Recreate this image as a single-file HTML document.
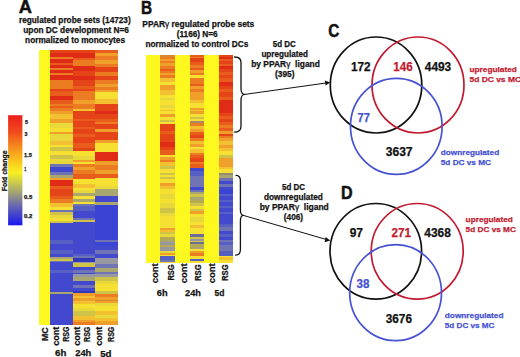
<!DOCTYPE html>
<html><head><meta charset="utf-8">
<style>
html,body{margin:0;padding:0;background:#fff;}
body{width:520px;height:357px;overflow:hidden;position:relative;}
svg{position:absolute;left:0;top:0;}
text{font-family:"Liberation Sans",sans-serif;font-weight:bold;stroke-width:0.25px;}
</style></head><body>
<svg width="520" height="357" viewBox="0 0 520 357">
<defs><linearGradient id="lg" x1="0" y1="0" x2="0" y2="1">
<stop offset="0" stop-color="#ec1e1c"/>
<stop offset="0.15" stop-color="#f04a1c"/>
<stop offset="0.3" stop-color="#f6901c"/>
<stop offset="0.45" stop-color="#fad41e"/>
<stop offset="0.52" stop-color="#f8f020"/>
<stop offset="0.62" stop-color="#c8c850"/>
<stop offset="0.72" stop-color="#9a9a7c"/>
<stop offset="0.82" stop-color="#6868b0"/>
<stop offset="1" stop-color="#1818f0"/>
</linearGradient></defs>
<rect x="8.1" y="115.2" width="14.3" height="110.1" fill="url(#lg)"/>
<g id="hm" shape-rendering="crispEdges">
<rect x="38.6" y="50" width="11.4" height="274.6" fill="#fcf820"/>
<rect x="50" y="50" width="22.6" height="2.5" fill="#e44418"/>
<rect x="50" y="52.5" width="22.6" height="4.0" fill="#e02c16"/>
<rect x="50" y="56.5" width="22.6" height="2.0" fill="#ec7c22"/>
<rect x="50" y="58.5" width="22.6" height="4.5" fill="#e02c16"/>
<rect x="50" y="63" width="22.6" height="2" fill="#e85c1c"/>
<rect x="50" y="65" width="22.6" height="2.6" fill="#e02c16"/>
<rect x="50" y="67.6" width="22.6" height="2.0" fill="#ec7c22"/>
<rect x="50" y="69.6" width="22.6" height="3.4" fill="#e02c16"/>
<rect x="50" y="73" width="22.6" height="2" fill="#ec7c22"/>
<rect x="50" y="75" width="22.6" height="5" fill="#e02c16"/>
<rect x="50" y="80" width="22.6" height="5" fill="#ec7c22"/>
<rect x="50" y="85" width="22.6" height="3.5" fill="#ec7c22"/>
<rect x="50" y="88.5" width="22.6" height="2.5" fill="#e44418"/>
<rect x="50" y="91" width="22.6" height="4.6" fill="#e85c1c"/>
<rect x="50" y="95.6" width="22.6" height="4.4" fill="#e02c16"/>
<rect x="50" y="100" width="22.6" height="3.5" fill="#e85c1c"/>
<rect x="50" y="103.5" width="22.6" height="2.5" fill="#ec7c22"/>
<rect x="50" y="106" width="22.6" height="2" fill="#e85c1c"/>
<rect x="50" y="108" width="22.6" height="3" fill="#ec7c22"/>
<rect x="50" y="111" width="22.6" height="3" fill="#f0a02a"/>
<rect x="50" y="114" width="22.6" height="5" fill="#f2c030"/>
<rect x="50" y="119" width="22.6" height="4" fill="#f0a02a"/>
<rect x="50" y="123" width="22.6" height="4.5" fill="#e8d83a"/>
<rect x="50" y="127.5" width="22.6" height="4.0" fill="#f6e032"/>
<rect x="50" y="131.5" width="22.6" height="2.5" fill="#f0a02a"/>
<rect x="50" y="134" width="22.6" height="3.3" fill="#e8d83a"/>
<rect x="50" y="137.3" width="22.6" height="3.2" fill="#e8d83a"/>
<rect x="50" y="140.5" width="22.6" height="4.0" fill="#f2c030"/>
<rect x="50" y="144.5" width="22.6" height="2.5" fill="#f6e032"/>
<rect x="50" y="147" width="22.6" height="4" fill="#d0c448"/>
<rect x="50" y="151" width="22.6" height="4" fill="#f6e032"/>
<rect x="50" y="155" width="22.6" height="3.8" fill="#d0c448"/>
<rect x="50" y="158.8" width="22.6" height="3.2" fill="#e8d83a"/>
<rect x="50" y="162" width="22.6" height="2" fill="#e8d83a"/>
<rect x="50" y="164" width="22.6" height="3" fill="#7074b4"/>
<rect x="50" y="167" width="22.6" height="5" fill="#4249ce"/>
<rect x="50" y="172" width="22.6" height="3" fill="#7074b4"/>
<rect x="50" y="175" width="22.6" height="3" fill="#aaa670"/>
<rect x="50" y="178" width="22.6" height="2" fill="#f0a02a"/>
<rect x="50" y="180" width="22.6" height="6" fill="#e02c16"/>
<rect x="50" y="186" width="22.6" height="3" fill="#e85c1c"/>
<rect x="50" y="189" width="22.6" height="3" fill="#e44418"/>
<rect x="50" y="192" width="22.6" height="4" fill="#e44418"/>
<rect x="50" y="196" width="22.6" height="3" fill="#e85c1c"/>
<rect x="50" y="199" width="22.6" height="4" fill="#ec7c22"/>
<rect x="50" y="203" width="22.6" height="4" fill="#f2c030"/>
<rect x="50" y="207" width="22.6" height="3" fill="#f6e032"/>
<rect x="50" y="210" width="22.6" height="2" fill="#7074b4"/>
<rect x="50" y="212" width="22.6" height="3" fill="#d0c448"/>
<rect x="50" y="215" width="22.6" height="3" fill="#e8d83a"/>
<rect x="50" y="218" width="22.6" height="3" fill="#f6e032"/>
<rect x="50" y="221" width="22.6" height="2" fill="#d0c448"/>
<rect x="50" y="223" width="22.6" height="17" fill="#4249ce"/>
<rect x="50" y="240" width="22.6" height="4" fill="#5660c2"/>
<rect x="50" y="244" width="22.6" height="6" fill="#4249ce"/>
<rect x="50" y="250" width="22.6" height="4" fill="#5660c2"/>
<rect x="50" y="254" width="22.6" height="3" fill="#4249ce"/>
<rect x="50" y="257" width="22.6" height="2" fill="#aaa670"/>
<rect x="50" y="259" width="22.6" height="1.5" fill="#d0c448"/>
<rect x="50" y="260.5" width="22.6" height="1.5" fill="#7074b4"/>
<rect x="50" y="262" width="22.6" height="8" fill="#4249ce"/>
<rect x="50" y="270" width="22.6" height="3" fill="#5660c2"/>
<rect x="50" y="273" width="22.6" height="18.6" fill="#4249ce"/>
<rect x="50" y="291.6" width="22.6" height="2.2" fill="#aaa670"/>
<rect x="50" y="293.8" width="22.6" height="30.8" fill="#4249ce"/>
<rect x="72.6" y="50" width="22.5" height="3" fill="#e44418"/>
<rect x="72.6" y="53" width="22.5" height="5" fill="#e02c16"/>
<rect x="72.6" y="58" width="22.5" height="2" fill="#e85c1c"/>
<rect x="72.6" y="60" width="22.5" height="6" fill="#ec7c22"/>
<rect x="72.6" y="66" width="22.5" height="5" fill="#e02c16"/>
<rect x="72.6" y="71" width="22.5" height="5" fill="#e44418"/>
<rect x="72.6" y="76" width="22.5" height="4" fill="#e02c16"/>
<rect x="72.6" y="80" width="22.5" height="6" fill="#e44418"/>
<rect x="72.6" y="86" width="22.5" height="2.5" fill="#e85c1c"/>
<rect x="72.6" y="88.5" width="22.5" height="2.5" fill="#e44418"/>
<rect x="72.6" y="91" width="22.5" height="4" fill="#ec7c22"/>
<rect x="72.6" y="95" width="22.5" height="4.5" fill="#ec7c22"/>
<rect x="72.6" y="99.5" width="22.5" height="4.0" fill="#f0a02a"/>
<rect x="72.6" y="103.5" width="22.5" height="2.5" fill="#ec7c22"/>
<rect x="72.6" y="106" width="22.5" height="2.6" fill="#ec7c22"/>
<rect x="72.6" y="108.6" width="22.5" height="2.0" fill="#f2c030"/>
<rect x="72.6" y="110.6" width="22.5" height="8.4" fill="#e44418"/>
<rect x="72.6" y="119" width="22.5" height="2" fill="#e85c1c"/>
<rect x="72.6" y="121" width="22.5" height="6" fill="#e44418"/>
<rect x="72.6" y="127" width="22.5" height="2" fill="#e85c1c"/>
<rect x="72.6" y="129" width="22.5" height="5" fill="#e44418"/>
<rect x="72.6" y="134" width="22.5" height="3" fill="#e85c1c"/>
<rect x="72.6" y="137" width="22.5" height="6" fill="#e44418"/>
<rect x="72.6" y="143" width="22.5" height="5" fill="#e85c1c"/>
<rect x="72.6" y="148" width="22.5" height="3" fill="#e44418"/>
<rect x="72.6" y="151" width="22.5" height="4.6" fill="#f6e032"/>
<rect x="72.6" y="155.6" width="22.5" height="4.4" fill="#e8d83a"/>
<rect x="72.6" y="160" width="22.5" height="2" fill="#f0a02a"/>
<rect x="72.6" y="162" width="22.5" height="2" fill="#f6e032"/>
<rect x="72.6" y="164" width="22.5" height="3" fill="#ec7c22"/>
<rect x="72.6" y="167" width="22.5" height="3" fill="#f0a02a"/>
<rect x="72.6" y="170" width="22.5" height="4" fill="#ec7c22"/>
<rect x="72.6" y="174" width="22.5" height="5" fill="#e85c1c"/>
<rect x="72.6" y="179" width="22.5" height="2" fill="#f6e032"/>
<rect x="72.6" y="181" width="22.5" height="3" fill="#f6e032"/>
<rect x="72.6" y="184" width="22.5" height="4" fill="#f2c030"/>
<rect x="72.6" y="188" width="22.5" height="2" fill="#f6e032"/>
<rect x="72.6" y="190" width="22.5" height="3" fill="#e8d83a"/>
<rect x="72.6" y="193" width="22.5" height="3" fill="#aaa670"/>
<rect x="72.6" y="196" width="22.5" height="3" fill="#f6e032"/>
<rect x="72.6" y="199" width="22.5" height="3" fill="#aaa670"/>
<rect x="72.6" y="202" width="22.5" height="2" fill="#f6e032"/>
<rect x="72.6" y="204" width="22.5" height="2" fill="#7074b4"/>
<rect x="72.6" y="206" width="22.5" height="5" fill="#5660c2"/>
<rect x="72.6" y="211" width="22.5" height="7" fill="#4249ce"/>
<rect x="72.6" y="218" width="22.5" height="2" fill="#7074b4"/>
<rect x="72.6" y="220" width="22.5" height="2" fill="#d0c448"/>
<rect x="72.6" y="222" width="22.5" height="32" fill="#4249ce"/>
<rect x="72.6" y="254" width="22.5" height="2" fill="#5660c2"/>
<rect x="72.6" y="256" width="22.5" height="2" fill="#7074b4"/>
<rect x="72.6" y="258" width="22.5" height="4" fill="#3038bc"/>
<rect x="72.6" y="262" width="22.5" height="1" fill="#9898a0"/>
<rect x="72.6" y="263" width="22.5" height="4" fill="#d0c448"/>
<rect x="72.6" y="267" width="22.5" height="3" fill="#4249ce"/>
<rect x="72.6" y="270" width="22.5" height="3" fill="#7074b4"/>
<rect x="72.6" y="273" width="22.5" height="1" fill="#4249ce"/>
<rect x="72.6" y="274" width="22.5" height="3" fill="#9898a0"/>
<rect x="72.6" y="277" width="22.5" height="4" fill="#aaa670"/>
<rect x="72.6" y="281" width="22.5" height="4" fill="#4249ce"/>
<rect x="72.6" y="285" width="22.5" height="3" fill="#7074b4"/>
<rect x="72.6" y="288" width="22.5" height="3" fill="#4249ce"/>
<rect x="72.6" y="291" width="22.5" height="2" fill="#3038bc"/>
<rect x="72.6" y="293" width="22.5" height="3" fill="#f0a02a"/>
<rect x="72.6" y="296" width="22.5" height="2" fill="#f2c030"/>
<rect x="72.6" y="298" width="22.5" height="2.6" fill="#f0a02a"/>
<rect x="72.6" y="300.6" width="22.5" height="3.3" fill="#f2c030"/>
<rect x="72.6" y="303.9" width="22.5" height="4.1" fill="#f6e032"/>
<rect x="72.6" y="308" width="22.5" height="3" fill="#e8d83a"/>
<rect x="72.6" y="311" width="22.5" height="5.3" fill="#d0c448"/>
<rect x="72.6" y="316.3" width="22.5" height="3.9" fill="#f2c030"/>
<rect x="72.6" y="320.2" width="22.5" height="2.0" fill="#f0a02a"/>
<rect x="72.6" y="322.2" width="22.5" height="2.4" fill="#ec7c22"/>
<rect x="95.1" y="50" width="22.4" height="2.6" fill="#e85c1c"/>
<rect x="95.1" y="52.6" width="22.4" height="3.4" fill="#f0a02a"/>
<rect x="95.1" y="56" width="22.4" height="4" fill="#ec7c22"/>
<rect x="95.1" y="60" width="22.4" height="4.4" fill="#f0a02a"/>
<rect x="95.1" y="64.4" width="22.4" height="2.6" fill="#ec7c22"/>
<rect x="95.1" y="67" width="22.4" height="4.6" fill="#e44418"/>
<rect x="95.1" y="71.6" width="22.4" height="4.4" fill="#ec7c22"/>
<rect x="95.1" y="76" width="22.4" height="4" fill="#e44418"/>
<rect x="95.1" y="80" width="22.4" height="4" fill="#ec7c22"/>
<rect x="95.1" y="84" width="22.4" height="2.5" fill="#f0a02a"/>
<rect x="95.1" y="86.5" width="22.4" height="3.9" fill="#ec7c22"/>
<rect x="95.1" y="90.4" width="22.4" height="2.0" fill="#f0a02a"/>
<rect x="95.1" y="92.4" width="22.4" height="6.6" fill="#f6e032"/>
<rect x="95.1" y="99" width="22.4" height="5" fill="#f2c030"/>
<rect x="95.1" y="104" width="22.4" height="2" fill="#e44418"/>
<rect x="95.1" y="106" width="22.4" height="4.6" fill="#e44418"/>
<rect x="95.1" y="110.6" width="22.4" height="3.4" fill="#e02c16"/>
<rect x="95.1" y="114" width="22.4" height="5" fill="#e44418"/>
<rect x="95.1" y="119" width="22.4" height="3.3" fill="#e85c1c"/>
<rect x="95.1" y="122.3" width="22.4" height="2.0" fill="#ec7c22"/>
<rect x="95.1" y="124.3" width="22.4" height="4.7" fill="#e44418"/>
<rect x="95.1" y="129" width="22.4" height="3" fill="#f0a02a"/>
<rect x="95.1" y="132" width="22.4" height="8" fill="#e44418"/>
<rect x="95.1" y="140" width="22.4" height="3" fill="#f0a02a"/>
<rect x="95.1" y="143" width="22.4" height="8.5" fill="#f6e032"/>
<rect x="95.1" y="151.5" width="22.4" height="9.1" fill="#e02c16"/>
<rect x="95.1" y="160.6" width="22.4" height="4.0" fill="#f0a02a"/>
<rect x="95.1" y="164.6" width="22.4" height="2.4" fill="#ec7c22"/>
<rect x="95.1" y="167" width="22.4" height="3" fill="#ec7c22"/>
<rect x="95.1" y="170" width="22.4" height="4" fill="#f0a02a"/>
<rect x="95.1" y="174" width="22.4" height="4" fill="#e85c1c"/>
<rect x="95.1" y="178" width="22.4" height="2" fill="#f6e032"/>
<rect x="95.1" y="180" width="22.4" height="6" fill="#f6e032"/>
<rect x="95.1" y="186" width="22.4" height="3" fill="#e8d83a"/>
<rect x="95.1" y="189" width="22.4" height="4" fill="#aaa670"/>
<rect x="95.1" y="193" width="22.4" height="3" fill="#aaa670"/>
<rect x="95.1" y="196" width="22.4" height="6" fill="#4249ce"/>
<rect x="95.1" y="202" width="22.4" height="3" fill="#aaa670"/>
<rect x="95.1" y="205" width="22.4" height="35" fill="#3a44d4"/>
<rect x="95.1" y="240" width="22.4" height="2" fill="#7074b4"/>
<rect x="95.1" y="242" width="22.4" height="4" fill="#3a44d4"/>
<rect x="95.1" y="246" width="22.4" height="4" fill="#4249ce"/>
<rect x="95.1" y="250" width="22.4" height="4" fill="#7074b4"/>
<rect x="95.1" y="254" width="22.4" height="4" fill="#4249ce"/>
<rect x="95.1" y="258" width="22.4" height="6" fill="#9898a0"/>
<rect x="95.1" y="264" width="22.4" height="4" fill="#7074b4"/>
<rect x="95.1" y="268" width="22.4" height="4" fill="#aaa670"/>
<rect x="95.1" y="272" width="22.4" height="2" fill="#7074b4"/>
<rect x="95.1" y="274" width="22.4" height="3" fill="#9898a0"/>
<rect x="95.1" y="277" width="22.4" height="4" fill="#d0c448"/>
<rect x="95.1" y="281" width="22.4" height="3" fill="#e8d83a"/>
<rect x="95.1" y="284" width="22.4" height="7" fill="#f6e032"/>
<rect x="95.1" y="291" width="22.4" height="3" fill="#d0c448"/>
<rect x="95.1" y="294" width="22.4" height="3" fill="#ec7c22"/>
<rect x="95.1" y="297" width="22.4" height="3" fill="#f0a02a"/>
<rect x="95.1" y="300" width="22.4" height="1.3" fill="#d88a30"/>
<rect x="95.1" y="301.3" width="22.4" height="1.9" fill="#f0a02a"/>
<rect x="95.1" y="303.2" width="22.4" height="2.6" fill="#e8d83a"/>
<rect x="95.1" y="305.8" width="22.4" height="5.2" fill="#f6e032"/>
<rect x="95.1" y="311" width="22.4" height="4" fill="#f2c030"/>
<rect x="95.1" y="315" width="22.4" height="2.6" fill="#e8d83a"/>
<rect x="95.1" y="317.6" width="22.4" height="3.3" fill="#f2c030"/>
<rect x="95.1" y="320.9" width="22.4" height="3.7" fill="#f0a02a"/>
<rect x="145.7" y="54.8" width="87.78" height="207.8" fill="#fcf820"/>
<rect x="160.33" y="54.8" width="14.63" height="2.2" fill="#d88a30"/>
<rect x="160.33" y="57" width="14.63" height="2" fill="#ec7c22"/>
<rect x="160.33" y="59" width="14.63" height="2" fill="#f0a02a"/>
<rect x="160.33" y="61" width="14.63" height="2" fill="#ec7c22"/>
<rect x="160.33" y="63" width="14.63" height="2.5" fill="#f0a02a"/>
<rect x="160.33" y="65.5" width="14.63" height="3.0" fill="#ec7c22"/>
<rect x="160.33" y="68.5" width="14.63" height="2.2" fill="#e85c1c"/>
<rect x="160.33" y="70.7" width="14.63" height="2.3" fill="#ec7c22"/>
<rect x="160.33" y="73" width="14.63" height="2" fill="#f0a02a"/>
<rect x="160.33" y="75" width="14.63" height="2.5" fill="#ec7c22"/>
<rect x="160.33" y="77.5" width="14.63" height="2.5" fill="#f2c030"/>
<rect x="160.33" y="80" width="14.63" height="2.2" fill="#f2c030"/>
<rect x="160.33" y="82.2" width="14.63" height="2.3" fill="#f6e032"/>
<rect x="160.33" y="84.5" width="14.63" height="5.5" fill="#f0a02a"/>
<rect x="160.33" y="90" width="14.63" height="5" fill="#f2c030"/>
<rect x="160.33" y="95" width="14.63" height="3" fill="#f6e032"/>
<rect x="160.33" y="98" width="14.63" height="2.2" fill="#e8d83a"/>
<rect x="160.33" y="100.2" width="14.63" height="4.5" fill="#f6e032"/>
<rect x="160.33" y="104.7" width="14.63" height="3.0" fill="#e8d83a"/>
<rect x="160.33" y="107.7" width="14.63" height="2.3" fill="#f6e032"/>
<rect x="160.33" y="110" width="14.63" height="1" fill="#f2c030"/>
<rect x="160.33" y="111" width="14.63" height="3" fill="#f6e032"/>
<rect x="160.33" y="114" width="14.63" height="3" fill="#f0a02a"/>
<rect x="160.33" y="117" width="14.63" height="3" fill="#f6e032"/>
<rect x="160.33" y="120" width="14.63" height="2" fill="#d0c448"/>
<rect x="160.33" y="122" width="14.63" height="2" fill="#f6e032"/>
<rect x="160.33" y="124" width="14.63" height="7" fill="#e44418"/>
<rect x="160.33" y="131" width="14.63" height="3" fill="#e85c1c"/>
<rect x="160.33" y="134" width="14.63" height="8" fill="#e44418"/>
<rect x="160.33" y="142" width="14.63" height="4.5" fill="#e02c16"/>
<rect x="160.33" y="146.5" width="14.63" height="3.7" fill="#e44418"/>
<rect x="160.33" y="150.2" width="14.63" height="4.5" fill="#e85c1c"/>
<rect x="160.33" y="154.7" width="14.63" height="2.3" fill="#f6e032"/>
<rect x="160.33" y="157" width="14.63" height="3" fill="#f0a02a"/>
<rect x="160.33" y="160" width="14.63" height="2.2" fill="#ec7c22"/>
<rect x="160.33" y="162.2" width="14.63" height="3.8" fill="#f2c030"/>
<rect x="160.33" y="166" width="14.63" height="3" fill="#d0c448"/>
<rect x="160.33" y="169" width="14.63" height="4" fill="#f6e032"/>
<rect x="160.33" y="173" width="14.63" height="2" fill="#d0c448"/>
<rect x="160.33" y="175" width="14.63" height="2" fill="#f6e032"/>
<rect x="160.33" y="177" width="14.63" height="2" fill="#d0c448"/>
<rect x="160.33" y="179" width="14.63" height="4" fill="#f6e032"/>
<rect x="160.33" y="183" width="14.63" height="3" fill="#f0a02a"/>
<rect x="160.33" y="186" width="14.63" height="3" fill="#f2c030"/>
<rect x="160.33" y="189" width="14.63" height="4.5" fill="#f6e032"/>
<rect x="160.33" y="193.5" width="14.63" height="5.2" fill="#e8d83a"/>
<rect x="160.33" y="198.7" width="14.63" height="4.5" fill="#f6e032"/>
<rect x="160.33" y="203.2" width="14.63" height="4.5" fill="#e8d83a"/>
<rect x="160.33" y="207.7" width="14.63" height="5.3" fill="#d0c448"/>
<rect x="160.33" y="213" width="14.63" height="3" fill="#e8d83a"/>
<rect x="160.33" y="216" width="14.63" height="11.5" fill="#f6e032"/>
<rect x="160.33" y="227.5" width="14.63" height="2.2" fill="#f0a02a"/>
<rect x="160.33" y="229.7" width="14.63" height="2.3" fill="#f2c030"/>
<rect x="160.33" y="232" width="14.63" height="2.2" fill="#d0c448"/>
<rect x="160.33" y="234.2" width="14.63" height="2.3" fill="#e8d83a"/>
<rect x="160.33" y="236.5" width="14.63" height="3.0" fill="#b4aa52"/>
<rect x="160.33" y="239.5" width="14.63" height="2.7" fill="#aaa670"/>
<rect x="160.33" y="242.2" width="14.63" height="2.3" fill="#9898a0"/>
<rect x="160.33" y="244.5" width="14.63" height="2.2" fill="#b4aa52"/>
<rect x="160.33" y="246.7" width="14.63" height="3.8" fill="#9898a0"/>
<rect x="160.33" y="250.5" width="14.63" height="2.2" fill="#e8d83a"/>
<rect x="160.33" y="252.7" width="14.63" height="2.3" fill="#f0a02a"/>
<rect x="160.33" y="255" width="14.63" height="0.7" fill="#f6e032"/>
<rect x="160.33" y="255.7" width="14.63" height="3.8" fill="#5660c2"/>
<rect x="160.33" y="259.5" width="14.63" height="2.2" fill="#7074b4"/>
<rect x="160.33" y="261.7" width="14.63" height="0.9" fill="#f6e032"/>
<rect x="189.59" y="54.8" width="14.63" height="1.7" fill="#e85c1c"/>
<rect x="189.59" y="56.5" width="14.63" height="1.5" fill="#ec7c22"/>
<rect x="189.59" y="58" width="14.63" height="3.7" fill="#e44418"/>
<rect x="189.59" y="61.7" width="14.63" height="3.0" fill="#e85c1c"/>
<rect x="189.59" y="64.7" width="14.63" height="3.0" fill="#ec7c22"/>
<rect x="189.59" y="67.7" width="14.63" height="2.3" fill="#e85c1c"/>
<rect x="189.59" y="70" width="14.63" height="3" fill="#f0a02a"/>
<rect x="189.59" y="73" width="14.63" height="2.2" fill="#ec7c22"/>
<rect x="189.59" y="75.2" width="14.63" height="2.3" fill="#f6e032"/>
<rect x="189.59" y="77.5" width="14.63" height="6.2" fill="#ec7c22"/>
<rect x="189.59" y="83.7" width="14.63" height="2.3" fill="#e85c1c"/>
<rect x="189.59" y="86" width="14.63" height="3" fill="#f0a02a"/>
<rect x="189.59" y="89" width="14.63" height="3" fill="#ec7c22"/>
<rect x="189.59" y="92" width="14.63" height="7.5" fill="#f0a02a"/>
<rect x="189.59" y="99.5" width="14.63" height="3.0" fill="#f2c030"/>
<rect x="189.59" y="102.5" width="14.63" height="5.2" fill="#f6e032"/>
<rect x="189.59" y="107.7" width="14.63" height="2.3" fill="#f0a02a"/>
<rect x="189.59" y="110" width="14.63" height="1" fill="#f2c030"/>
<rect x="189.59" y="111" width="14.63" height="3" fill="#f0a02a"/>
<rect x="189.59" y="114" width="14.63" height="3" fill="#f6e032"/>
<rect x="189.59" y="117" width="14.63" height="2.2" fill="#d0c448"/>
<rect x="189.59" y="119.2" width="14.63" height="1.5" fill="#f6e032"/>
<rect x="189.59" y="120.7" width="14.63" height="2.3" fill="#a48a6a"/>
<rect x="189.59" y="123" width="14.63" height="3" fill="#ec7c22"/>
<rect x="189.59" y="126" width="14.63" height="3" fill="#f2c030"/>
<rect x="189.59" y="129" width="14.63" height="3" fill="#f0a02a"/>
<rect x="189.59" y="132" width="14.63" height="3" fill="#e85c1c"/>
<rect x="189.59" y="135" width="14.63" height="3.2" fill="#e44418"/>
<rect x="189.59" y="138.2" width="14.63" height="2.3" fill="#ec7c22"/>
<rect x="189.59" y="140.5" width="14.63" height="3.0" fill="#f2c030"/>
<rect x="189.59" y="143.5" width="14.63" height="3.0" fill="#f0a02a"/>
<rect x="189.59" y="146.5" width="14.63" height="2.2" fill="#f6e032"/>
<rect x="189.59" y="148.7" width="14.63" height="3.8" fill="#f2c030"/>
<rect x="189.59" y="152.5" width="14.63" height="2.2" fill="#ec7c22"/>
<rect x="189.59" y="154.7" width="14.63" height="3.0" fill="#e85c1c"/>
<rect x="189.59" y="157.7" width="14.63" height="3.8" fill="#e44418"/>
<rect x="189.59" y="161.5" width="14.63" height="2.5" fill="#ec7c22"/>
<rect x="189.59" y="164" width="14.63" height="3.7" fill="#e85c1c"/>
<rect x="189.59" y="167.7" width="14.63" height="3.0" fill="#4249ce"/>
<rect x="189.59" y="170.7" width="14.63" height="5.3" fill="#5660c2"/>
<rect x="189.59" y="176" width="14.63" height="7.5" fill="#7074b4"/>
<rect x="189.59" y="183.5" width="14.63" height="3.0" fill="#7074b4"/>
<rect x="189.59" y="186.5" width="14.63" height="3.0" fill="#4249ce"/>
<rect x="189.59" y="189.5" width="14.63" height="2.2" fill="#7074b4"/>
<rect x="189.59" y="191.7" width="14.63" height="2.5" fill="#aaa670"/>
<rect x="189.59" y="194.2" width="14.63" height="3.0" fill="#d0c448"/>
<rect x="189.59" y="197.2" width="14.63" height="3.0" fill="#aaa670"/>
<rect x="189.59" y="200.2" width="14.63" height="3.0" fill="#b4aa52"/>
<rect x="189.59" y="203.2" width="14.63" height="2.3" fill="#d0c448"/>
<rect x="189.59" y="205.5" width="14.63" height="3.0" fill="#f6e032"/>
<rect x="189.59" y="208.5" width="14.63" height="2.2" fill="#d0c448"/>
<rect x="189.59" y="210.7" width="14.63" height="3.0" fill="#f0a02a"/>
<rect x="189.59" y="213.7" width="14.63" height="3.0" fill="#f6e032"/>
<rect x="189.59" y="216.7" width="14.63" height="3.0" fill="#e8d83a"/>
<rect x="189.59" y="219.7" width="14.63" height="2.5" fill="#e8d83a"/>
<rect x="189.59" y="222.2" width="14.63" height="3.0" fill="#f6e032"/>
<rect x="189.59" y="225.2" width="14.63" height="3.0" fill="#f2c030"/>
<rect x="189.59" y="228.2" width="14.63" height="5.3" fill="#f6e032"/>
<rect x="189.59" y="233.5" width="14.63" height="3.0" fill="#6c7098"/>
<rect x="189.59" y="236.5" width="14.63" height="2.2" fill="#d0c448"/>
<rect x="189.59" y="238.7" width="14.63" height="2.3" fill="#9898a0"/>
<rect x="189.59" y="241" width="14.63" height="0.5" fill="#d0c448"/>
<rect x="189.59" y="241.5" width="14.63" height="2.5" fill="#6c7098"/>
<rect x="189.59" y="244" width="14.63" height="2.5" fill="#b4aa52"/>
<rect x="189.59" y="246.5" width="14.63" height="2.0" fill="#aaa670"/>
<rect x="189.59" y="248.5" width="14.63" height="2.0" fill="#f6e032"/>
<rect x="189.59" y="250.5" width="14.63" height="2.2" fill="#f0a02a"/>
<rect x="189.59" y="252.7" width="14.63" height="3.0" fill="#ec7c22"/>
<rect x="189.59" y="255.7" width="14.63" height="3.0" fill="#f6e032"/>
<rect x="189.59" y="258.7" width="14.63" height="2.3" fill="#5660c2"/>
<rect x="189.59" y="261" width="14.63" height="1.6" fill="#f6e032"/>
<rect x="218.85" y="54.8" width="14.63" height="1.7" fill="#e44418"/>
<rect x="218.85" y="56.5" width="14.63" height="2.2" fill="#e02c16"/>
<rect x="218.85" y="58.7" width="14.63" height="2.3" fill="#e85c1c"/>
<rect x="218.85" y="61" width="14.63" height="3" fill="#e44418"/>
<rect x="218.85" y="64" width="14.63" height="2.2" fill="#e85c1c"/>
<rect x="218.85" y="66.2" width="14.63" height="2.3" fill="#e02c16"/>
<rect x="218.85" y="68.5" width="14.63" height="3.0" fill="#e44418"/>
<rect x="218.85" y="71.5" width="14.63" height="3.0" fill="#e85c1c"/>
<rect x="218.85" y="74.5" width="14.63" height="3.0" fill="#e44418"/>
<rect x="218.85" y="77.5" width="14.63" height="4.7" fill="#e85c1c"/>
<rect x="218.85" y="82.2" width="14.63" height="3.8" fill="#e02c16"/>
<rect x="218.85" y="86" width="14.63" height="3" fill="#e44418"/>
<rect x="218.85" y="89" width="14.63" height="3" fill="#e85c1c"/>
<rect x="218.85" y="92" width="14.63" height="4.5" fill="#e44418"/>
<rect x="218.85" y="96.5" width="14.63" height="3.0" fill="#e85c1c"/>
<rect x="218.85" y="99.5" width="14.63" height="10.5" fill="#e02c16"/>
<rect x="218.85" y="110" width="14.63" height="3.2" fill="#e02c16"/>
<rect x="218.85" y="113.2" width="14.63" height="3.0" fill="#e44418"/>
<rect x="218.85" y="116.2" width="14.63" height="3.0" fill="#e85c1c"/>
<rect x="218.85" y="119.2" width="14.63" height="3.0" fill="#e44418"/>
<rect x="218.85" y="122.2" width="14.63" height="3.0" fill="#e85c1c"/>
<rect x="218.85" y="125.2" width="14.63" height="2.3" fill="#ec7c22"/>
<rect x="218.85" y="127.5" width="14.63" height="3.0" fill="#e85c1c"/>
<rect x="218.85" y="130.5" width="14.63" height="3.0" fill="#f0a02a"/>
<rect x="218.85" y="133.5" width="14.63" height="2.2" fill="#e44418"/>
<rect x="218.85" y="135.7" width="14.63" height="2.5" fill="#ec7c22"/>
<rect x="218.85" y="138.2" width="14.63" height="3.0" fill="#f0a02a"/>
<rect x="218.85" y="141.2" width="14.63" height="3.8" fill="#f2c030"/>
<rect x="218.85" y="145" width="14.63" height="3" fill="#f0a02a"/>
<rect x="218.85" y="148" width="14.63" height="3" fill="#f2c030"/>
<rect x="218.85" y="151" width="14.63" height="3.7" fill="#f6e032"/>
<rect x="218.85" y="154.7" width="14.63" height="3.0" fill="#d0c448"/>
<rect x="218.85" y="157.7" width="14.63" height="4.5" fill="#f0a02a"/>
<rect x="218.85" y="162.2" width="14.63" height="4.8" fill="#f0a02a"/>
<rect x="218.85" y="167" width="14.63" height="2.2" fill="#f2c030"/>
<rect x="218.85" y="169.2" width="14.63" height="3.8" fill="#f6e032"/>
<rect x="218.85" y="173" width="14.63" height="2.2" fill="#928a72"/>
<rect x="218.85" y="175.2" width="14.63" height="3.0" fill="#aaa670"/>
<rect x="218.85" y="178.2" width="14.63" height="3.0" fill="#7074b4"/>
<rect x="218.85" y="181.2" width="14.63" height="3.0" fill="#4249ce"/>
<rect x="218.85" y="184.2" width="14.63" height="2.3" fill="#7074b4"/>
<rect x="218.85" y="186.5" width="14.63" height="3.0" fill="#4249ce"/>
<rect x="218.85" y="189.5" width="14.63" height="4.5" fill="#3a44d4"/>
<rect x="218.85" y="194" width="14.63" height="1.5" fill="#5660c2"/>
<rect x="218.85" y="195.5" width="14.63" height="4.5" fill="#4249ce"/>
<rect x="218.85" y="200" width="14.63" height="1.5" fill="#5660c2"/>
<rect x="218.85" y="201.5" width="14.63" height="4.5" fill="#4249ce"/>
<rect x="218.85" y="206" width="14.63" height="1.5" fill="#5660c2"/>
<rect x="218.85" y="207.5" width="14.63" height="4.5" fill="#4249ce"/>
<rect x="218.85" y="212" width="14.63" height="1.5" fill="#5660c2"/>
<rect x="218.85" y="213.5" width="14.63" height="10.2" fill="#4249ce"/>
<rect x="218.85" y="223.7" width="14.63" height="3.0" fill="#5660c2"/>
<rect x="218.85" y="226.7" width="14.63" height="3.8" fill="#7074b4"/>
<rect x="218.85" y="230.5" width="14.63" height="3.0" fill="#4249ce"/>
<rect x="218.85" y="233.5" width="14.63" height="3.0" fill="#5660c2"/>
<rect x="218.85" y="236.5" width="14.63" height="3.0" fill="#4249ce"/>
<rect x="218.85" y="239.5" width="14.63" height="2.7" fill="#7074b4"/>
<rect x="218.85" y="242.2" width="14.63" height="3.0" fill="#5660c2"/>
<rect x="218.85" y="245.2" width="14.63" height="6.0" fill="#7074b4"/>
<rect x="218.85" y="251.2" width="14.63" height="4.5" fill="#5660c2"/>
<rect x="218.85" y="255.7" width="14.63" height="1.5" fill="#f6e032"/>
<rect x="218.85" y="257.2" width="14.63" height="2.3" fill="#f2c030"/>
<rect x="218.85" y="259.5" width="14.63" height="3.1" fill="#f6e032"/>
</g>

<g fill="none" stroke="#111" stroke-width="1.3" stroke-linecap="round" stroke-linejoin="round">
<path d="M234.5,57 C238.5,57 241,59 241,62.5 V88.5 C241,92 242.5,94.4 244.8,94.4 C242.5,94.4 241,97 241,100.2 V126.2 C241,130 238.5,132.1 234.3,132.1"/>
<path d="M236.1,175.4 C239,175.4 240.4,177.5 240.4,180.8 V209.5 C240.4,213 241.5,215.4 243.4,215.4 C241.5,215.4 240.4,218 240.4,221.5 V249.5 C240.4,253 239,255.1 235.5,255.1"/>
</g>
<g fill="none" stroke="#111" stroke-width="1.0">
<path d="M244.8,94.4 L326,83"/>
<path d="M243.4,215.4 L326,239.4"/>
</g>
<path d="M330.3,82.4 L324.8,80.4 L325.6,85.6 Z" fill="#111"/>
<path d="M330.3,240.6 L325.6,237.0 L324.6,242.2 Z" fill="#111"/>
<g fill="none" stroke-width="1.7">
<ellipse cx="376.05" cy="85" rx="45.75" ry="48" stroke="#111"/>
<ellipse cx="418" cy="85" rx="46" ry="48" stroke="#c21a30"/>
<ellipse cx="396.3" cy="126.4" rx="45.8" ry="48" stroke="#4652d2"/>
<ellipse cx="375.8" cy="251.3" rx="45.8" ry="47.8" stroke="#111"/>
<ellipse cx="417.2" cy="251.3" rx="46" ry="47.8" stroke="#c21a30"/>
<ellipse cx="395.6" cy="292.7" rx="45.9" ry="48" stroke="#4652d2"/>
</g>

<text x="18.8" y="12.95" font-size="18" textLength="13.2" lengthAdjust="spacingAndGlyphs" fill="#111" stroke="#111" style="stroke-width:0.5px">A</text>
<text x="140.9" y="13.6" font-size="18" textLength="11.1" lengthAdjust="spacingAndGlyphs" fill="#111" stroke="#111" style="stroke-width:0.5px">B</text>
<text x="328.2" y="36.9" font-size="18" textLength="11.1" lengthAdjust="spacingAndGlyphs" fill="#111" stroke="#111" style="stroke-width:0.5px">C</text>
<text x="340.9" y="198.7" font-size="18" textLength="11.6" lengthAdjust="spacingAndGlyphs" fill="#111" stroke="#111" style="stroke-width:0.5px">D</text>
<text x="19.0" y="22.9" font-size="8.8" textLength="111.7" lengthAdjust="spacingAndGlyphs" fill="#111" stroke="#111" >regulated probe sets (14723)</text>
<text x="23.3" y="32.5" font-size="8.8" textLength="105.7" lengthAdjust="spacingAndGlyphs" fill="#111" stroke="#111" >upon DC development N=6</text>
<text x="25.1" y="42.6" font-size="8.8" textLength="99.9" lengthAdjust="spacingAndGlyphs" fill="#111" stroke="#111" >normalized to monocytes</text>
<text x="142.3" y="26.7" font-size="8.8" textLength="112.0" lengthAdjust="spacingAndGlyphs" fill="#111" stroke="#111" >PPAR<tspan font-weight="normal">γ</tspan> regulated probe sets</text>
<text x="176.7" y="36.6" font-size="8.8" textLength="41.0" lengthAdjust="spacingAndGlyphs" fill="#111" stroke="#111" >(1166) N=6</text>
<text x="145.5" y="46.9" font-size="8.8" textLength="102.8" lengthAdjust="spacingAndGlyphs" fill="#111" stroke="#111" >normalized to control DCs</text>
<text x="24.9" y="123.8" font-size="6" textLength="3.0" lengthAdjust="spacingAndGlyphs" fill="#111" stroke="#111" >5</text>
<text x="24.4" y="136.2" font-size="6" textLength="2.9" lengthAdjust="spacingAndGlyphs" fill="#111" stroke="#111" >3</text>
<text x="24.0" y="156.6" font-size="6" textLength="8.0" lengthAdjust="spacingAndGlyphs" fill="#111" stroke="#111" >1.5</text>
<text x="24.2" y="171.3" font-size="6" textLength="2.0" lengthAdjust="spacingAndGlyphs" fill="#111" stroke="#111" >1</text>
<text x="24.0" y="199.2" font-size="6" textLength="8.4" lengthAdjust="spacingAndGlyphs" fill="#111" stroke="#111" >0.5</text>
<text x="24.0" y="218.2" font-size="6" textLength="8.4" lengthAdjust="spacingAndGlyphs" fill="#111" stroke="#111" >0.2</text>
<text transform="translate(6.6,191.3) rotate(-90)" x="0" y="0" font-size="7.2" textLength="40.8" lengthAdjust="spacingAndGlyphs" fill="#111" stroke="#111">Fold change</text>
<text transform="translate(48.3,341.1) rotate(-90)" x="0" y="0" font-size="9" textLength="13.8" lengthAdjust="spacingAndGlyphs" fill="#111" stroke="#111">MC</text>
<text transform="translate(58.9,345.8) rotate(-90)" x="0" y="0" font-size="9.3" textLength="19.2" lengthAdjust="spacingAndGlyphs" fill="#111" stroke="#111">cont</text>
<text transform="translate(69.4,341.8) rotate(-90)" x="0" y="0" font-size="8.5" textLength="15.2" lengthAdjust="spacingAndGlyphs" fill="#111" stroke="#111">RSG</text>
<text transform="translate(80.3,345.8) rotate(-90)" x="0" y="0" font-size="9.3" textLength="19.2" lengthAdjust="spacingAndGlyphs" fill="#111" stroke="#111">cont</text>
<text transform="translate(89.7,342.0) rotate(-90)" x="0" y="0" font-size="8.5" textLength="15.4" lengthAdjust="spacingAndGlyphs" fill="#111" stroke="#111">RSG</text>
<text transform="translate(102.3,345.8) rotate(-90)" x="0" y="0" font-size="9.3" textLength="19.2" lengthAdjust="spacingAndGlyphs" fill="#111" stroke="#111">cont</text>
<text transform="translate(113.8,342.0) rotate(-90)" x="0" y="0" font-size="8.5" textLength="15.4" lengthAdjust="spacingAndGlyphs" fill="#111" stroke="#111">RSG</text>
<text x="55" y="356.3" font-size="9.5" textLength="11.3" lengthAdjust="spacingAndGlyphs" fill="#111" stroke="#111" >6h</text>
<text x="75.2" y="356.3" font-size="9.5" textLength="16.1" lengthAdjust="spacingAndGlyphs" fill="#111" stroke="#111" >24h</text>
<text x="100.2" y="356.8" font-size="9.5" textLength="11.3" lengthAdjust="spacingAndGlyphs" fill="#111" stroke="#111" >5d</text>
<text transform="translate(158.0,283.3) rotate(-90)" x="0" y="0" font-size="9.3" textLength="19.9" lengthAdjust="spacingAndGlyphs" fill="#111" stroke="#111">cont</text>
<text transform="translate(173.5,280.6) rotate(-90)" x="0" y="0" font-size="8.5" textLength="16.3" lengthAdjust="spacingAndGlyphs" fill="#111" stroke="#111">RSG</text>
<text transform="translate(186.9,283.3) rotate(-90)" x="0" y="0" font-size="9.3" textLength="19.9" lengthAdjust="spacingAndGlyphs" fill="#111" stroke="#111">cont</text>
<text transform="translate(201.3,281.0) rotate(-90)" x="0" y="0" font-size="8.5" textLength="16.7" lengthAdjust="spacingAndGlyphs" fill="#111" stroke="#111">RSG</text>
<text transform="translate(215.0,283.3) rotate(-90)" x="0" y="0" font-size="9.3" textLength="19.9" lengthAdjust="spacingAndGlyphs" fill="#111" stroke="#111">cont</text>
<text transform="translate(228.4,281.0) rotate(-90)" x="0" y="0" font-size="8.5" textLength="16.7" lengthAdjust="spacingAndGlyphs" fill="#111" stroke="#111">RSG</text>
<text x="156.8" y="296" font-size="9.5" textLength="10.8" lengthAdjust="spacingAndGlyphs" fill="#111" stroke="#111" >6h</text>
<text x="185.1" y="296" font-size="9.5" textLength="15.9" lengthAdjust="spacingAndGlyphs" fill="#111" stroke="#111" >24h</text>
<text x="214.6" y="296" font-size="9.5" textLength="9.9" lengthAdjust="spacingAndGlyphs" fill="#111" stroke="#111" >5d</text>
<text x="272.8" y="47.1" font-size="8.5" textLength="23.1" lengthAdjust="spacingAndGlyphs" fill="#111" stroke="#111" >5d DC</text>
<text x="261.4" y="56.9" font-size="8.5" textLength="46.5" lengthAdjust="spacingAndGlyphs" fill="#111" stroke="#111" >upregulated</text>
<text x="251.2" y="67.2" font-size="8.5" textLength="68.7" lengthAdjust="spacingAndGlyphs" fill="#111" stroke="#111" xml:space="preserve">by PPAR<tspan font-weight="normal">γ</tspan>  ligand</text>
<text x="275" y="77.2" font-size="8.5" textLength="19.5" lengthAdjust="spacingAndGlyphs" fill="#111" stroke="#111" >(395)</text>
<text x="282" y="189.7" font-size="8.5" textLength="23" lengthAdjust="spacingAndGlyphs" fill="#111" stroke="#111" >5d DC</text>
<text x="264" y="199.5" font-size="8.5" textLength="58.9" lengthAdjust="spacingAndGlyphs" fill="#111" stroke="#111" >downregulated</text>
<text x="259.7" y="210.0" font-size="8.5" textLength="69.1" lengthAdjust="spacingAndGlyphs" fill="#111" stroke="#111" xml:space="preserve">by PPAR<tspan font-weight="normal">γ</tspan>  ligand</text>
<text x="283.8" y="219.7" font-size="8.5" textLength="19.3" lengthAdjust="spacingAndGlyphs" fill="#111" stroke="#111" >(406)</text>
<text x="351" y="70.9" font-size="12.4" textLength="19.7" lengthAdjust="spacingAndGlyphs" fill="#111" stroke="#111" >172</text>
<text x="393.3" y="71.1" font-size="12.4" textLength="19.4" lengthAdjust="spacingAndGlyphs" fill="#c21a30" stroke="#c21a30" >146</text>
<text x="424.8" y="70.9" font-size="12.4" textLength="26.4" lengthAdjust="spacingAndGlyphs" fill="#111" stroke="#111" >4493</text>
<text x="357.6" y="121.8" font-size="12.4" textLength="12.3" lengthAdjust="spacingAndGlyphs" fill="#4652d2" stroke="#4652d2" >77</text>
<text x="385.7" y="156.1" font-size="12.4" textLength="26.9" lengthAdjust="spacingAndGlyphs" fill="#111" stroke="#111" >3637</text>
<text x="469.5" y="71.7" font-size="7.9" textLength="47.3" lengthAdjust="spacingAndGlyphs" fill="#c21a30" stroke="#c21a30" >upregulated</text>
<text x="469.5" y="81.7" font-size="7.9" textLength="51.5" lengthAdjust="spacingAndGlyphs" fill="#c21a30" stroke="#c21a30" >5d DC vs MC</text>
<text x="440.8" y="155.3" font-size="7.9" textLength="58.4" lengthAdjust="spacingAndGlyphs" fill="#4652d2" stroke="#4652d2" >downregulated</text>
<text x="440.8" y="164.9" font-size="7.9" textLength="50.2" lengthAdjust="spacingAndGlyphs" fill="#4652d2" stroke="#4652d2" >5d DC vs MC</text>
<text x="349.7" y="237.3" font-size="12.4" textLength="13.3" lengthAdjust="spacingAndGlyphs" fill="#111" stroke="#111" >97</text>
<text x="391.5" y="237.3" font-size="12.4" textLength="19.5" lengthAdjust="spacingAndGlyphs" fill="#c21a30" stroke="#c21a30" >271</text>
<text x="424.3" y="237.3" font-size="12.4" textLength="26.5" lengthAdjust="spacingAndGlyphs" fill="#111" stroke="#111" >4368</text>
<text x="356.6" y="288.1" font-size="12.4" textLength="12.9" lengthAdjust="spacingAndGlyphs" fill="#4652d2" stroke="#4652d2" >38</text>
<text x="385.7" y="322.6" font-size="12.4" textLength="26.3" lengthAdjust="spacingAndGlyphs" fill="#111" stroke="#111" >3676</text>
<text x="465.6" y="222.0" font-size="7.9" textLength="47.2" lengthAdjust="spacingAndGlyphs" fill="#c21a30" stroke="#c21a30" >upregulated</text>
<text x="465.6" y="231.6" font-size="7.9" textLength="50.3" lengthAdjust="spacingAndGlyphs" fill="#c21a30" stroke="#c21a30" >5d DC vs MC</text>
<text x="444.8" y="318.3" font-size="7.9" textLength="58.7" lengthAdjust="spacingAndGlyphs" fill="#4652d2" stroke="#4652d2" >downregulated</text>
<text x="444.8" y="327.9" font-size="7.9" textLength="49.6" lengthAdjust="spacingAndGlyphs" fill="#4652d2" stroke="#4652d2" >5d DC vs MC</text>
</svg>
</body></html>
